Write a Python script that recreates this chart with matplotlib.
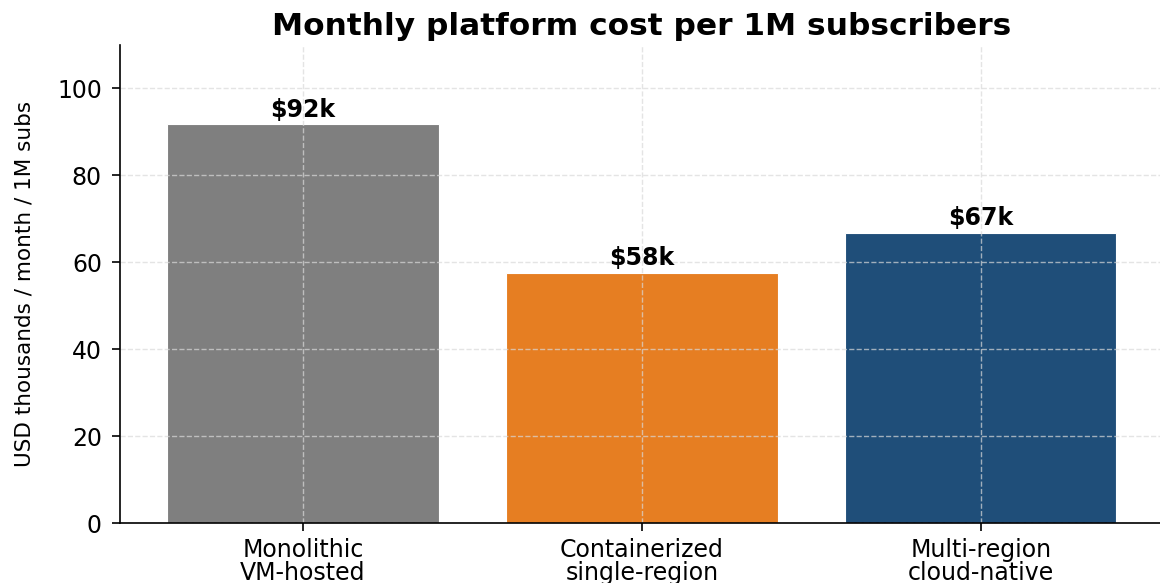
import numpy as np
import matplotlib
matplotlib.use('Agg')
import matplotlib.pyplot as plt

# platform cost per 1M subscribers, USD thousands / month
architectures = ['Monolithic\nVM-hosted', 'Containerized\nsingle-region', 'Multi-region\ncloud-native']
monthly_cost = [91.7, 57.6, 66.7]
bar_colors = ['#7f7f7f', '#e67e22', '#1f4e79']

fig = plt.figure(figsize=(11.6, 5.83), dpi=100)
ax = fig.add_axes([0.1034, 0.1029, 0.9, 0.820])

x = np.arange(len(architectures))
bars = ax.bar(x, monthly_cost, width=0.8, color=bar_colors, edgecolor='white', linewidth=0.8)

for rect, val in zip(bars, monthly_cost):
    ax.annotate(f'${val:.0f}k', xy=(rect.get_x() + rect.get_width() / 2, rect.get_height()),
                xytext=(0, 2), textcoords='offset points', ha='center', va='bottom',
                fontsize=17, fontweight='bold')

ax.set_ylim(0, 110)
ax.set_xticks(x)
ax.set_xticklabels(architectures, fontsize=17, linespacing=0.95)
ax.tick_params(axis='y', labelsize=17, pad=7)
ax.tick_params(axis='x', pad=5)
ax.tick_params(length=6, width=1.2)
ax.set_ylabel('USD thousands / month / 1M subs', fontsize=15.5)
ax.yaxis.set_label_coords(-0.082, 0.5)
ax.set_title('Monthly platform cost per 1M subscribers', fontsize=22.5, fontweight='bold', pad=7)

ax.grid(True, linestyle='--', color='#d9d9d9', alpha=0.7, linewidth=1)
for side in ['top', 'right']:
    ax.spines[side].set_visible(False)
for side in ['left', 'bottom']:
    ax.spines[side].set_linewidth(1.2)

fig.savefig('out.png', dpi=100)
